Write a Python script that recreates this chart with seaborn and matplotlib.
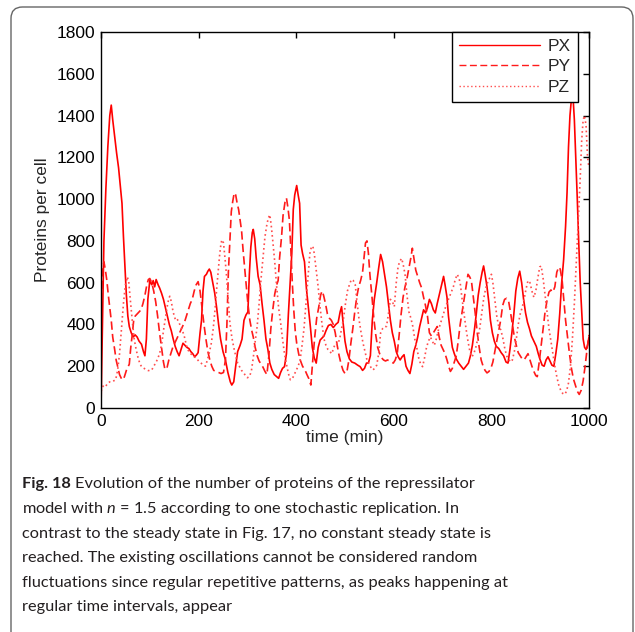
"""
Repressilator stochastic replication, n = 1.5 (Fig. 18).
"""
import seaborn as sns
import pandas as pd
import matplotlib.pyplot as plt
from matplotlib.patches import FancyBboxPatch

# (time [min], proteins per cell)
px = [(0, 0), (3, 400), (6, 800), (10, 1050), (14, 1250), (18, 1400), (21, 1450), (24, 1380),
      (28, 1300), (32, 1220), (36, 1150), (40, 1050), (43, 980), (46, 820), (49, 680), (52, 540),
      (55, 440), (58, 390), (62, 360), (66, 340), (70, 350), (74, 340), (78, 320), (83, 305),
      (87, 270), (90, 250), (93, 330), (96, 520), (100, 610), (104, 590), (107, 610), (110, 580),
      (113, 615), (117, 590), (120, 575), (124, 550), (128, 520), (132, 480), (136, 440),
      (140, 400), (144, 370), (148, 330), (152, 295), (156, 270), (160, 250), (164, 280),
      (168, 310), (172, 300), (176, 290), (180, 285), (184, 270), (188, 260), (192, 245),
      (196, 255), (199, 265), (203, 360), (206, 420), (209, 560), (212, 630), (216, 640),
      (219, 655), (222, 665), (225, 650), (229, 600), (233, 550), (237, 480), (241, 400),
      (245, 330), (250, 270), (255, 230), (260, 170), (265, 125), (268, 110), (272, 125),
      (276, 200), (280, 270), (285, 300), (289, 330), (293, 420), (297, 445), (301, 460),
      (304, 640), (307, 770), (310, 840), (312, 855), (315, 810), (318, 720), (322, 630),
      (326, 590), (330, 500), (334, 420), (338, 330), (342, 280), (346, 215), (350, 185),
      (355, 160), (360, 150), (364, 142), (368, 170), (372, 190), (376, 198), (380, 260),
      (384, 450), (388, 620), (391, 740), (394, 950), (397, 1020), (401, 1065), (404, 1020),
      (407, 980), (410, 780), (413, 740), (417, 700), (421, 570), (425, 480), (429, 390),
      (433, 290), (437, 240), (441, 215), (445, 290), (449, 325), (453, 335), (457, 345),
      (461, 370), (466, 395), (471, 400), (476, 385), (481, 400), (486, 410), (490, 460),
      (493, 485), (496, 410), (500, 320), (504, 270), (509, 235), (514, 220), (520, 215),
      (526, 205), (531, 198), (536, 180), (540, 190), (544, 215), (548, 215), (552, 250),
      (556, 420), (560, 520), (565, 600), (569, 670), (573, 735), (577, 700), (581, 640),
      (585, 580), (589, 500), (593, 420), (597, 360), (601, 320), (605, 270), (609, 245),
      (613, 230), (617, 245), (621, 255), (625, 200), (629, 180), (633, 165), (637, 210),
      (641, 270), (645, 300), (649, 340), (653, 390), (657, 430), (661, 470), (665, 455),
      (669, 480), (673, 520), (677, 500), (681, 470), (685, 455), (689, 500), (693, 540),
      (697, 580), (702, 630), (705, 590), (709, 530), (712, 440), (716, 360), (720, 290),
      (724, 260), (728, 235), (733, 215), (738, 200), (743, 185), (748, 200), (753, 215),
      (757, 250), (761, 300), (765, 370), (769, 450), (773, 540), (777, 600), (781, 650),
      (784, 680), (787, 640), (791, 580), (795, 500), (798, 420), (802, 360), (806, 320),
      (810, 295), (815, 285), (820, 265), (825, 250), (830, 220), (834, 215), (838, 280),
      (842, 360), (846, 450), (850, 560), (854, 620), (858, 655), (862, 600), (866, 520),
      (870, 455), (874, 410), (878, 380), (882, 345), (887, 320), (892, 295), (896, 260),
      (900, 230), (904, 205), (908, 200), (912, 230), (916, 245), (920, 225), (924, 205),
      (928, 200), (932, 260), (936, 330), (940, 450), (944, 600), (948, 710), (952, 870),
      (955, 1030), (958, 1250), (961, 1400), (964, 1480), (967, 1500), (970, 1380),
      (973, 1190), (976, 1000), (979, 790), (982, 600), (985, 460), (988, 330), (991, 290),
      (994, 280), (997, 300), (1000, 340)]

py = [(0, 450), (3, 650), (6, 700), (9, 660), (12, 610), (15, 540), (18, 480), (21, 420),
      (24, 340), (28, 280), (31, 230), (35, 190), (38, 160), (42, 140), (45, 135), (48, 150),
      (52, 180), (55, 195), (58, 210), (61, 290), (64, 350), (67, 420), (70, 440), (74, 450),
      (78, 460), (82, 470), (86, 500), (90, 540), (94, 590), (97, 615), (100, 620), (104, 600),
      (108, 560), (112, 510), (116, 440), (120, 360), (124, 290), (128, 220), (131, 185),
      (135, 190), (139, 230), (143, 260), (147, 290), (151, 310), (155, 330), (159, 350),
      (163, 370), (167, 390), (171, 410), (175, 440), (179, 470), (183, 500), (187, 520),
      (191, 560), (195, 590), (199, 605), (203, 560), (207, 480), (211, 400), (215, 330),
      (219, 270), (223, 230), (227, 200), (231, 180), (236, 175), (241, 170), (246, 165),
      (251, 170), (255, 230), (258, 400), (261, 650), (264, 800), (267, 940), (270, 990),
      (273, 1030), (276, 1020), (279, 980), (282, 950), (285, 900), (288, 850), (291, 760),
      (294, 680), (298, 580), (301, 500), (305, 420), (309, 370), (312, 340), (316, 290),
      (320, 250), (324, 225), (328, 210), (332, 195), (336, 175), (340, 160), (344, 250),
      (348, 380), (352, 470), (356, 545), (360, 590), (363, 610), (366, 720), (370, 820),
      (373, 920), (377, 985), (380, 1005), (383, 960), (386, 900), (389, 760), (392, 600),
      (395, 470), (398, 370), (401, 310), (405, 260), (409, 225), (413, 200), (418, 182),
      (422, 160), (426, 140), (430, 110), (434, 230), (438, 340), (442, 430), (446, 480),
      (450, 540), (453, 560), (456, 540), (460, 500), (464, 450), (468, 430), (472, 420),
      (476, 400), (480, 360), (484, 300), (488, 250), (492, 210), (496, 180), (500, 165),
      (504, 175), (508, 230), (512, 310), (516, 380), (520, 460), (524, 530), (528, 580),
      (532, 610), (536, 650), (539, 720), (542, 790), (545, 800), (548, 740), (551, 640),
      (555, 540), (559, 430), (563, 350), (567, 290), (571, 260), (575, 240), (579, 230),
      (583, 225), (587, 230), (591, 225), (595, 220), (599, 215), (603, 230), (607, 260),
      (611, 350), (615, 450), (619, 530), (623, 580), (627, 620), (631, 670), (635, 720),
      (638, 765), (641, 720), (645, 660), (649, 630), (653, 600), (657, 575), (661, 530),
      (665, 490), (669, 440), (673, 360), (677, 345), (681, 360), (685, 375), (689, 390),
      (693, 340), (697, 300), (701, 280), (705, 260), (709, 230), (713, 195), (716, 175),
      (720, 190), (724, 220), (728, 250), (732, 320), (736, 400), (740, 460), (744, 520),
      (748, 580), (752, 640), (755, 630), (759, 610), (763, 530), (767, 450), (771, 360),
      (775, 290), (779, 230), (783, 200), (787, 180), (791, 168), (795, 175), (799, 190),
      (803, 220), (807, 270), (811, 320), (815, 370), (819, 420), (823, 490), (827, 520),
      (831, 525), (835, 515), (839, 460), (843, 400), (847, 340), (851, 300), (855, 265),
      (859, 250), (863, 235), (867, 230), (871, 245), (875, 260), (879, 230), (883, 200),
      (887, 175), (891, 155), (894, 150), (898, 220), (902, 300), (906, 380), (910, 460),
      (914, 515), (918, 555), (922, 565), (926, 555), (930, 580), (934, 650), (938, 675),
      (941, 665), (945, 610), (949, 500), (952, 420), (956, 340), (960, 260), (964, 190),
      (968, 140), (972, 110), (976, 80), (980, 65), (984, 85), (988, 130), (992, 200),
      (996, 280), (1000, 350)]

pz = [(0, 80), (3, 100), (6, 110), (10, 105), (14, 120), (18, 125), (22, 125), (26, 130),
      (30, 135), (34, 180), (38, 260), (42, 380), (46, 500), (50, 590), (54, 628), (57, 600),
      (60, 520), (64, 420), (68, 330), (72, 280), (76, 240), (80, 210), (84, 195), (88, 190),
      (92, 185), (96, 180), (100, 178), (104, 182), (108, 200), (112, 215), (116, 235),
      (120, 260), (124, 300), (128, 370), (132, 430), (136, 490), (139, 525), (141, 535),
      (144, 510), (147, 470), (150, 440), (153, 420), (156, 425), (159, 415), (163, 390),
      (167, 370), (171, 340), (175, 300), (179, 275), (183, 260), (187, 255), (191, 245),
      (195, 240), (200, 225), (205, 215), (210, 205), (214, 200), (218, 230), (222, 265),
      (226, 310), (230, 380), (234, 480), (237, 570), (240, 650), (243, 730), (246, 790),
      (248, 805), (251, 790), (254, 720), (257, 640), (260, 540), (264, 410), (268, 340),
      (272, 290), (276, 250), (280, 215), (284, 198), (288, 180), (292, 170), (296, 155),
      (300, 145), (304, 150), (308, 175), (312, 240), (316, 320), (320, 390), (324, 500),
      (328, 620), (332, 720), (336, 820), (340, 880), (343, 910), (346, 925), (349, 870),
      (352, 800), (356, 700), (360, 580), (364, 480), (368, 410), (372, 330), (376, 260),
      (380, 210), (384, 165), (388, 135), (392, 140), (396, 160), (400, 180), (404, 200),
      (408, 230), (412, 300), (416, 380), (420, 500), (424, 620), (428, 740), (431, 770),
      (434, 775), (437, 740), (441, 660), (445, 580), (449, 480), (453, 400), (457, 330),
      (461, 300), (465, 280), (469, 270), (473, 260), (477, 290), (481, 310), (485, 305),
      (489, 330), (493, 380), (497, 430), (501, 500), (505, 560), (509, 590), (513, 615),
      (517, 610), (521, 590), (525, 500), (529, 420), (533, 360), (537, 310), (541, 270),
      (545, 230), (549, 210), (553, 195), (557, 182), (561, 190), (565, 205), (569, 260),
      (573, 360), (577, 380), (581, 390), (585, 390), (589, 450), (593, 520), (597, 510),
      (601, 485), (605, 600), (609, 680), (613, 705), (616, 716), (619, 690), (623, 640),
      (627, 540), (631, 460), (635, 430), (639, 390), (643, 330), (647, 290), (651, 240),
      (655, 210), (659, 198), (663, 240), (667, 290), (671, 320), (675, 340), (679, 320),
      (683, 300), (687, 330), (691, 370), (695, 400), (699, 430), (703, 460), (707, 490),
      (712, 520), (717, 550), (722, 580), (726, 615), (730, 640), (733, 625), (736, 600),
      (740, 520), (744, 450), (748, 380), (752, 320), (756, 270), (760, 245), (764, 260),
      (768, 290), (772, 330), (776, 380), (780, 450), (784, 520), (788, 570), (792, 600),
      (796, 620), (800, 640), (803, 600), (807, 520), (811, 440), (815, 390), (819, 375),
      (823, 340), (827, 290), (831, 250), (835, 235), (839, 220), (843, 230), (847, 270),
      (851, 330), (855, 400), (859, 450), (863, 480), (867, 520), (871, 570), (875, 610),
      (879, 600), (883, 560), (887, 530), (891, 560), (895, 620), (899, 675), (902, 680),
      (906, 620), (910, 540), (914, 460), (918, 380), (922, 320), (926, 260), (930, 200),
      (934, 150), (938, 110), (942, 85), (946, 70), (950, 65), (954, 80), (958, 120),
      (962, 200), (966, 330), (970, 500), (974, 700), (978, 900), (982, 1100), (985, 1280),
      (988, 1380), (991, 1400), (994, 1350), (997, 1200), (1000, 1150)]

series_names = ["PX", "PY", "PZ"]
x_ticks = [0, 200, 400, 600, 800, 1000]
y_ticks = [0, 200, 400, 600, 800, 1000, 1200, 1400, 1600, 1800]

caption = [
    "model with $n$ = 1.5 according to one stochastic replication. In",
    "contrast to the steady state in Fig. 17, no constant steady state is",
    "reached. The existing oscillations cannot be considered random",
    "fluctuations since regular repetitive patterns, as peaks happening at",
    "regular time intervals, appear",
]
caption_head = "Fig. 18"
caption_first = "Evolution of the number of proteins of the repressilator"


def to_frame():
    rows = []
    for name, pts in zip(series_names, [px, py, pz]):
        for t, v in pts:
            rows.append({"time": t, "value": v, "series": name})
    return pd.DataFrame(rows)


def main():
    df = to_frame()

    sns.set_style("white")
    plt.rcParams["font.family"] = ["Liberation Sans", "DejaVu Sans"]
    plt.rcParams["mathtext.fontset"] = "custom"
    plt.rcParams["mathtext.it"] = "Lato:italic"
    plt.rcParams["mathtext.rm"] = "Lato"

    W, H = 635, 632
    fig = plt.figure(figsize=(W / 100, H / 100), dpi=100)
    ax = fig.add_axes([101 / W, 1 - 408 / H, 488 / W, 376 / H])

    sns.lineplot(data=df, x="time", y="value", hue="series", style="series",
                 palette={"PX": "#ff0000", "PY": "#ff1a1a", "PZ": "#ff4d4d"},
                 dashes={"PX": "", "PY": (5, 2.5), "PZ": (1, 1.8)},
                 estimator=None, sort=False, lw=1.2, legend=False, ax=ax)

    ax.set_xlim(0, 1000)
    ax.set_ylim(0, 1800)
    ax.set_xticks(x_ticks)
    ax.set_yticks(y_ticks)
    ax.tick_params(direction="in", length=4, width=1, top=True, right=True,
                   labelsize=12.5, pad=4, colors="black")
    for s in ax.spines.values():
        s.set_color("black")
        s.set_linewidth(1)
    ax.set_xlabel("time (min)", fontsize=12.5, labelpad=1)
    ax.set_ylabel("Proteins per cell", fontsize=12.5, labelpad=5)

    # Legend box in the top right corner.
    leg = ax.legend(handles=ax.lines[:3], labels=series_names, loc="upper right",
                    bbox_to_anchor=((578 - 101) / 488, 1.0), borderaxespad=0,
                    fontsize=12.5, frameon=True, fancybox=False, edgecolor="black",
                    framealpha=1, handlelength=4.7, handletextpad=0.45,
                    labelspacing=0.3, borderpad=0.4)
    leg.get_frame().set_linewidth(1)
    for h in leg.get_lines():
        h.set_linewidth(1.0)

    # Rounded frame round the figure panel.
    box = FancyBboxPatch((11 / W, -0.05), (633 - 11) / W, 1.05 - 7 / H,
                         boxstyle="round,pad=0,rounding_size=0.018",
                         transform=fig.transFigure, fill=False,
                         edgecolor="#666666", lw=1, clip_on=False)
    fig.patches.append(box)

    # Caption, one text per printed line.
    cap_font = dict(fontsize=11.8, family="Lato", color="#231f20", va="baseline")
    head = fig.text(22 / W, 1 - 488 / H, caption_head, fontweight="bold", **cap_font)
    renderer = fig.canvas.get_renderer()
    bb = head.get_window_extent(renderer)
    fig.text((bb.x1 + 4) / W, 1 - 488 / H, caption_first, **cap_font)
    for i, line in enumerate(caption):
        fig.text(22 / W, 1 - (513 + 24.6 * i) / H, line, **cap_font)

    plt.savefig("out.png", dpi=100)


if __name__ == "__main__":
    main()
